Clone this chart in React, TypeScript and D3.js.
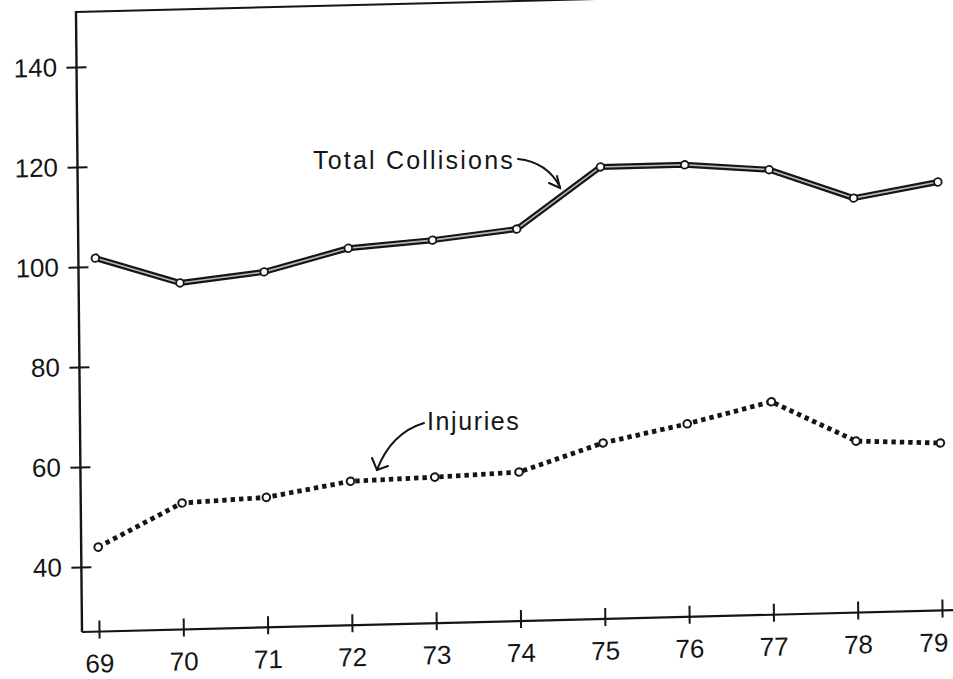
import React, { useRef, useEffect } from 'react';
import * as d3 from 'd3';

// Motor vehicle collisions, 1969-79
const years = [69, 70, 71, 72, 73, 74, 75, 76, 77, 78, 79];
const totalCollisions = [101.7, 96.3, 98.1, 102.4, 103.6, 105.4, 117.4, 117.4, 116.0, 109.9, 112.7];
const injuries = [43.9, 52.3, 53.0, 55.8, 56.2, 56.8, 62.2, 65.6, 69.6, 61.3, 60.5];
const yTicks = [40, 60, 80, 100, 120, 140];

function App() {
    const ref = useRef<SVGSVGElement>(null);

    useEffect(() => {
        draw();
    }, []);

    function draw() {
        const width = 953;
        const height = 679;
        const originX = 82; // where the two axes meet
        const originY = 632;
        const ink = '#151515';
        const font = '"Liberation Sans", Arial, Helvetica, sans-serif';

        const x = d3.scaleLinear([69, 79], [99, 942]);
        const y = d3.scaleLinear([40, 140], [567, 67]);

        const svg = d3.select(ref.current)
            .attr('width', width)
            .attr('height', height)
            .attr('viewBox', [0, 0, width, height]);
        svg.selectAll('*').remove();

        svg.append('rect').attr('width', width).attr('height', height).attr('fill', '#fff');

        // the page was scanned a bit crooked, so skew everything slightly
        const g = svg.append('g')
            .attr('transform', `translate(${originX},${originY}) matrix(1,-0.025,0.0097,1,0,0) translate(${-originX},${-originY})`);

        // top frame line
        g.append('line')
            .attr('x1', originX).attr('x2', 720)
            .attr('y1', 12).attr('y2', 12)
            .attr('stroke', ink).attr('stroke-width', 2);

        // y axis
        g.append('g')
            .attr('transform', `translate(${originX},0)`)
            .call(d3.axisLeft(y).tickValues(yTicks).tickSize(10).tickPadding(9.5))
            .call(a => a.select('.domain').remove())
            .call(a => a.selectAll('.tick line').attr('x1', -10).attr('x2', 10)
                .attr('stroke', ink).attr('stroke-width', 2))
            .call(a => a.selectAll('.tick text')
                .attr('fill', ink).attr('font-size', 26).attr('font-family', font));
        g.append('line')
            .attr('x1', originX).attr('x2', originX)
            .attr('y1', originY).attr('y2', 11)
            .attr('stroke', ink).attr('stroke-width', 2.4);

        // x axis
        g.append('g')
            .attr('transform', `translate(0,${originY})`)
            .call(d3.axisBottom(x).tickValues(years).tickSize(7).tickPadding(15.5).tickFormat(d3.format('d')))
            .call(a => a.select('.domain').remove())
            .call(a => a.selectAll('.tick line').attr('y1', -11).attr('y2', 7)
                .attr('stroke', ink).attr('stroke-width', 2))
            .call(a => a.selectAll('.tick text')
                .attr('fill', ink).attr('font-size', 26).attr('font-family', font)
                .attr('dx', (d: any) => d === 79 ? -9 : 0));
        g.append('line')
            .attr('x1', originX).attr('x2', 1010)
            .attr('y1', originY).attr('y2', originY)
            .attr('stroke', ink).attr('stroke-width', 2.2);

        const line = d3.line<number>()
            .x((d, i) => x(years[i]))
            .y(d => y(d));

        // Total collisions: outlined double line
        g.append('path')
            .attr('d', line(totalCollisions))
            .attr('fill', 'none').attr('stroke', ink)
            .attr('stroke-width', 6).attr('stroke-linejoin', 'round');
        g.append('path')
            .attr('d', line(totalCollisions))
            .attr('fill', 'none').attr('stroke', '#b8b8b8')
            .attr('stroke-width', 1.6).attr('stroke-linejoin', 'round');
        g.append('g')
            .selectAll('circle')
            .data(totalCollisions)
            .join('circle')
            .attr('cx', (d, i) => x(years[i]))
            .attr('cy', d => y(d))
            .attr('r', 3.8)
            .attr('fill', '#fff').attr('stroke', ink).attr('stroke-width', 1.8);

        // Injuries: heavy dotted line
        g.append('path')
            .attr('d', line(injuries))
            .attr('fill', 'none').attr('stroke', ink)
            .attr('stroke-width', 4.8).attr('stroke-dasharray', '4.4 4');
        g.append('g')
            .selectAll('circle')
            .data(injuries)
            .join('circle')
            .attr('cx', (d, i) => x(years[i]))
            .attr('cy', d => y(d))
            .attr('r', 3.8)
            .attr('fill', '#fff').attr('stroke', ink).attr('stroke-width', 2);

        // annotations
        const notes = svg.append('g')
            .attr('fill', 'none').attr('stroke', ink).attr('stroke-width', 2)
            .attr('stroke-linecap', 'round');

        svg.append('text')
            .attr('x', 313).attr('y', 169)
            .attr('font-size', 25).attr('letter-spacing', 2.2)
            .attr('font-family', font).attr('fill', ink)
            .text('Total Collisions');
        notes.append('path').attr('d', 'M518,159 Q547,162 560,187');
        notes.append('path').attr('d', 'M549,183 L560,188 L557,176');

        svg.append('text')
            .attr('x', 427).attr('y', 430)
            .attr('font-size', 25).attr('letter-spacing', 1.6)
            .attr('font-family', font).attr('fill', ink)
            .text('Injuries');
        notes.append('path').attr('d', 'M424,423 Q391,433 377,470');
        notes.append('path').attr('d', 'M372,458 L377,470 L388,466');
    }

    return (
        <div style={{ position: 'absolute', left: 0, top: 0 }}>
            <svg ref={ref} style={{ display: 'block' }}></svg>
        </div>
    );
}

export default App;
